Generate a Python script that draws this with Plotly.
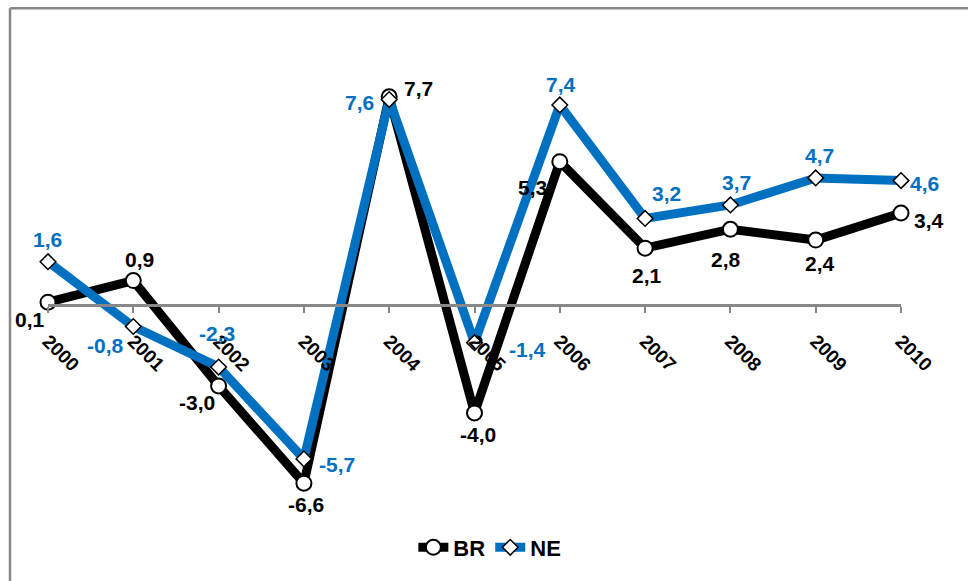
import plotly.graph_objects as go

years = ["2000", "2001", "2002", "2003", "2004", "2005", "2006", "2007", "2008", "2009", "2010"]
br_values = [0.1, 0.9, -3.0, -6.6, 7.7, -4.0, 5.3, 2.1, 2.8, 2.4, 3.4]
ne_values = [1.6, -0.8, -2.3, -5.7, 7.6, -1.4, 7.4, 3.2, 3.7, 4.7, 4.6]

# label offsets in pixels (styling only)
br_shift = [(-18, -17), (6, 21), (-22, -17), (2, -21), (29, 8), (3, -22),
            (-27, -26), (2, -27), (-4, -30), (4, -23), (28, -7)]
ne_shift = [(-1, 22), (-28, -19), (-2, 34), (33, -6), (-30, -3), (53, -7),
            (1, 20), (21, 25), (6, 22), (4, 22), (23, -3)]

def fmt(v):
    return f"{v:.1f}".replace(".", ",")

xs = list(range(len(years)))
BLUE = "#0070C0"
FONT = "Liberation Sans, Arial, sans-serif"

fig = go.Figure()
fig.add_trace(go.Scatter(
    x=xs, y=br_values, name="<b>BR</b>", mode="lines+markers",
    line=dict(color="black", width=9),
    marker=dict(symbol="circle", size=15, color="white", line=dict(color="black", width=2)),
    cliponaxis=False,
))
fig.add_trace(go.Scatter(
    x=xs, y=ne_values, name="<b>NE</b>", mode="lines+markers",
    line=dict(color=BLUE, width=9),
    marker=dict(symbol="diamond", size=12, color="white", line=dict(color="black", width=1.5)),
    cliponaxis=False,
))

annotations = []
for vals, shifts, color in ((br_values, br_shift, "black"), (ne_values, ne_shift, BLUE)):
    for xi, v, (dx, dy) in zip(xs, vals, shifts):
        annotations.append(dict(
            x=xi, y=v, xref="x", yref="y", text=f"<b>{fmt(v)}</b>", showarrow=False,
            xshift=dx, yshift=dy, xanchor="center", yanchor="middle",
            font=dict(size=21, color=color, family=FONT),
        ))

ymin, ymax = -7.148, 9.064
fig.update_layout(
    width=968, height=581,
    margin=dict(l=48, r=67, t=60, b=81),
    paper_bgcolor="white", plot_bgcolor="white",
    font=dict(family=FONT, size=19, color="black"),
    showlegend=True,
    legend=dict(orientation="h", x=0.518, xanchor="center", y=-0.065, yanchor="top",
                font=dict(size=22, color="black", family=FONT)),
    xaxis=dict(
        range=[0, 10], tickmode="array", tickvals=xs, ticktext=[f"<b>{y}</b>" for y in years],
        tickangle=45, showline=True, linecolor="#888888", linewidth=2.5,
        ticks="outside", ticklen=6, tickcolor="#888888", tickwidth=2,
        ticklabelstandoff=10,
        showgrid=False, zeroline=False, anchor="free", position=(0 - ymin) / (ymax - ymin),
        tickfont=dict(size=19, color="black", family=FONT),
    ),
    yaxis=dict(range=[ymin, ymax], visible=False, showgrid=False, zeroline=False),
    annotations=annotations,
    shapes=[
        dict(type="line", xref="paper", yref="paper", x0=-38/853, x1=1.2, y0=1 + 52/440, y1=1 + 52/440,
             line=dict(color="#888888", width=2.5)),
        dict(type="line", xref="paper", yref="paper", x0=-38/853, x1=-38/853, y0=1 + 52/440, y1=-0.3,
             line=dict(color="#888888", width=2.5)),
    ],
)

fig.write_html("out.html")
